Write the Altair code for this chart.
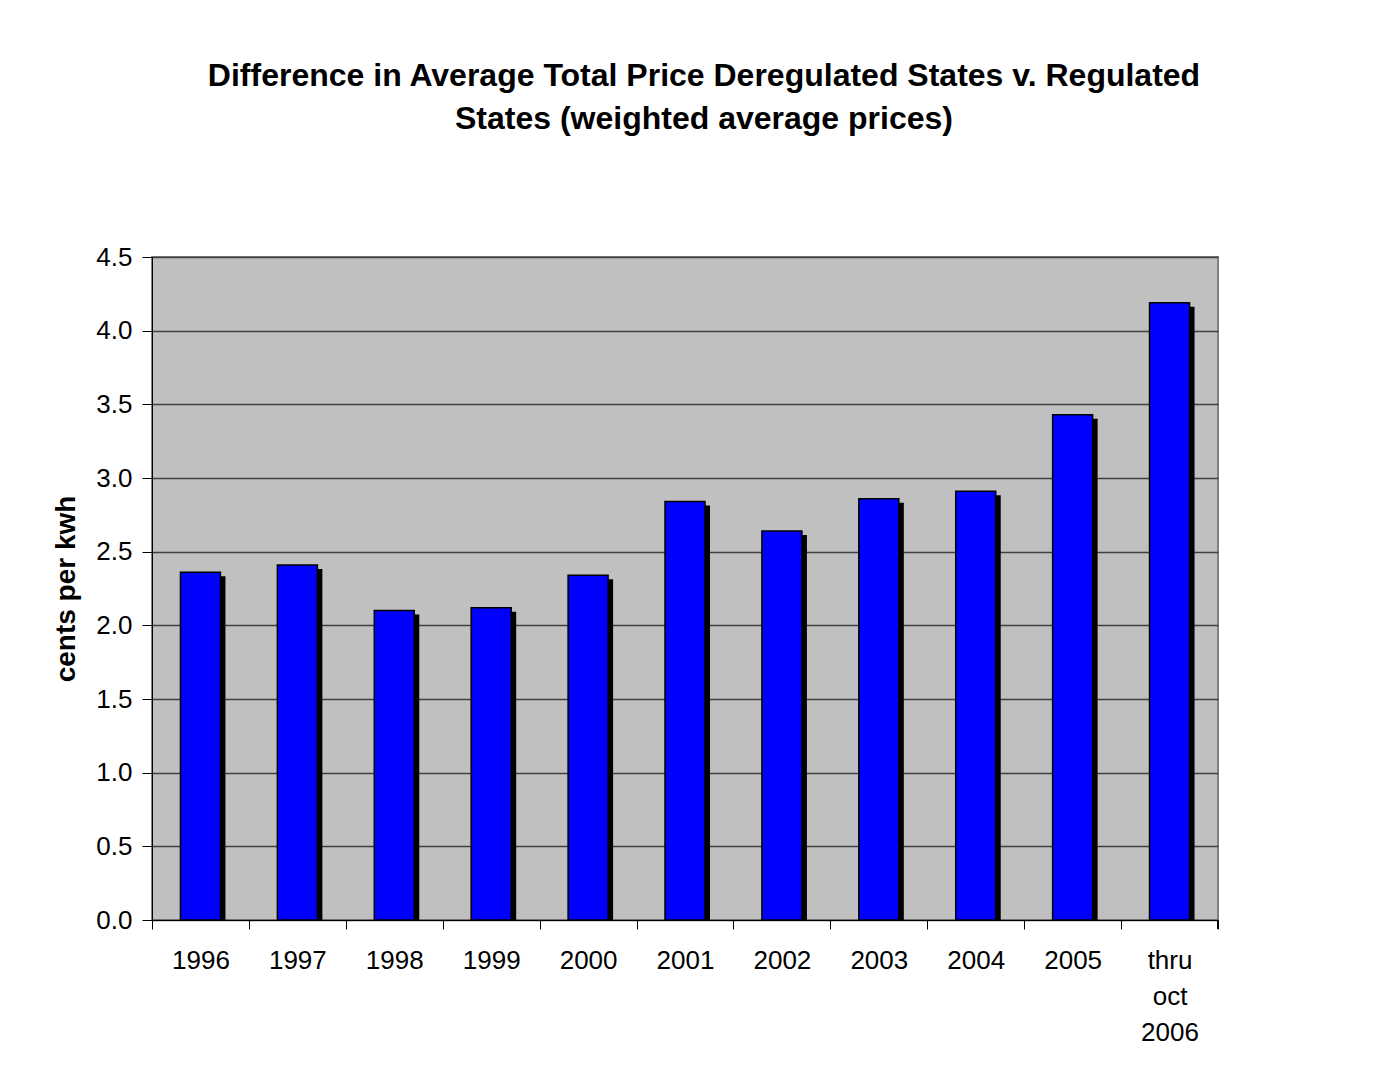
import altair as alt
import pandas as pd

years = ["1996", "1997", "1998", "1999", "2000", "2001", "2002", "2003", "2004", "2005", "thru oct 2006"]
values = [2.36, 2.41, 2.10, 2.12, 2.34, 2.84, 2.64, 2.86, 2.91, 3.43, 4.19]

df = pd.DataFrame({"year": years, "value": values})

FONT = "Liberation Sans"
W, H = 1066, 663

x_enc = alt.X(
    "year:N", sort=years, title=None,
    scale=alt.Scale(paddingInner=0, paddingOuter=0),
    axis=alt.Axis(
        labelAngle=0, labelFont=FONT, labelFontSize=26, labelColor="#000000",
        labelExpr="split(datum.label, ' ')", labelLineHeight=36,
        labelPadding=18, labelBaseline="top",
        tickBand="extent", tickSize=9, tickColor="#000000", tickWidth=1,
        domainColor="#000000", domainWidth=1, grid=False,
    ),
)
y_enc = alt.Y(
    "value:Q", title="cents per kwh",
    scale=alt.Scale(domain=[0, 4.5], nice=False),
    axis=alt.Axis(
        values=[0, 0.5, 1, 1.5, 2, 2.5, 3, 3.5, 4, 4.5], format=".1f",
        labelFont=FONT, labelFontSize=26, labelColor="#000000", labelPadding=10,
        tickSize=10, tickColor="#000000", tickWidth=1,
        domainColor="#000000", domainWidth=1,
        grid=True, gridColor="#404040", gridWidth=1.4,
        titleFont=FONT, titleFontSize=28, titleFontWeight="bold", titleColor="#000000",
        titlePadding=15,
    ),
)

shadow = alt.Chart(df).mark_bar(
    color="#000000", size=40, xOffset=5, yOffset=4, clip=True
).encode(x=x_enc, y=y_enc)

bars = alt.Chart(df).mark_bar(
    color="#0000FF", stroke="#000000", strokeWidth=1.5, size=40
).encode(x=x_enc, y=y_enc)

end_tick = alt.Chart(df).mark_rule(color="#000000", strokeWidth=1).encode(
    x=alt.value(W), y=alt.value(H), y2=alt.value(H + 9)
)

chart = alt.layer(shadow, bars, end_tick).properties(
    width=W, height=H,
    title=alt.TitleParams(
        ["Difference in Average Total Price Deregulated States v. Regulated",
         "States (weighted average prices)"],
        font=FONT, fontSize=32, fontWeight="bold", color="#000000",
        anchor="middle", dx=19, offset=108, lineHeight=43,
    ),
    autosize=alt.AutoSizeParams(type="none"),
    padding={"left": 144, "top": 249, "right": 140, "bottom": 130},
    background="#FFFFFF",
).configure_view(
    fill="#C0C0C0", stroke="#808080", strokeWidth=2
)

chart.save("out.html", embed_options={"renderer": "svg", "actions": False})
